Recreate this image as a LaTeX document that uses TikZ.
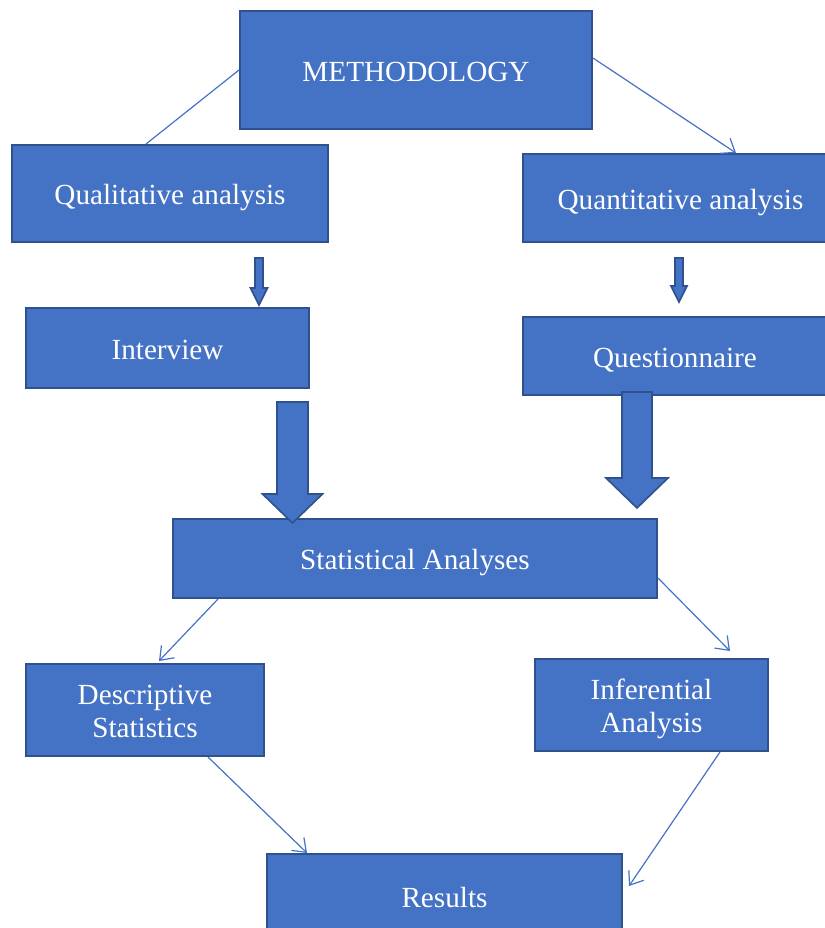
\documentclass[tikz,border=0pt]{standalone}
\usepackage{fontspec}
\setmainfont{Liberation Serif}
\usetikzlibrary{arrows.meta}
\definecolor{boxfill}{HTML}{4472C4}
\definecolor{boxline}{HTML}{2F528F}
\tikzset{
  box/.style={draw=boxline, fill=boxfill, line width=1pt, text=white, align=center,
    inner sep=0pt, text height=12pt, text depth=1pt, font=\fontsize{14.6}{16.5}\selectfont},
  twobox/.style={box, text height=28.5pt},
  link/.style={draw=boxfill, line width=0.6pt},
  arr/.style={link, -{Straight Barb[length=6pt,width=9pt]}},
  fat/.style={draw=boxline, fill=boxfill, line width=0.8pt, line join=miter}
}
\begin{document}
\begin{tikzpicture}[x=0.5pt,y=-0.5pt]
      \useasboundingbox (0,0) rectangle (825,928);

      % boxes
      \node[box, minimum width=176pt, minimum height=59pt] (meth) at (416,70) {METHODOLOGY};
      \node[box, minimum width=158pt, minimum height=48.5pt] (qual) at (170,193.5) {Qualitative analysis};
      \node[box, minimum width=157.5pt, minimum height=44pt] (quan) at (680.5,198) {Quantitative analysis};
      \node[box, minimum width=141.5pt, minimum height=40pt] (inter) at (167.5,348) {Interview};
      \node[box, minimum width=152pt, minimum height=39pt] (quest) at (675,356) {Questionnaire};
      \node[box, minimum width=242pt, minimum height=39.5pt] (stat) at (415,558.5) {Statistical Analyses};
      \node[twobox, minimum width=119pt, minimum height=46pt] (desc) at (145,710) {Descriptive\\Statistics};
      \node[twobox, minimum width=116.5pt, minimum height=46pt] (infer) at (651.5,705) {Inferential\\Analysis};
      \node[box, minimum width=177.5pt, minimum height=42pt] (res) at (444.5,896) {Results};

      % thin connectors
      \path[link] (meth.west) -- ([xshift=-12pt]qual.north);
      \path[arr] ([yshift=6pt]meth.east) -- ([xshift=27.75pt]quan.north);
      \path[arr] ([xshift=23pt]stat.south west) -- ([xshift=7pt,yshift=1pt]desc.north);
      \path[arr] ([yshift=-9.75pt]stat.east) -- ([xshift=39.25pt,yshift=3.5pt]infer.north);
      \path[arr] ([xshift=31.5pt]desc.south) -- ([xshift=20.5pt]res.north west);
      \path[arr] ([xshift=34.25pt]infer.south) -- ([xshift=3pt,yshift=5pt]res.east);

      % block arrows: centre / top / head start / tip / half shaft / half head
      \foreach \cx/\top/\hs/\tip/\sw/\hw in {259/258/288/305/4/8.5, 679/258/286/302/4/8,
                                          292.5/402/494/523/15.5/30, 637/392/478/508/15/31}
        \path[fat] (\cx-\sw,\top) -- (\cx+\sw,\top) -- (\cx+\sw,\hs) -- (\cx+\hw,\hs)
          -- (\cx,\tip) -- (\cx-\hw,\hs) -- (\cx-\sw,\hs) -- cycle;

\end{tikzpicture}
\end{document}
